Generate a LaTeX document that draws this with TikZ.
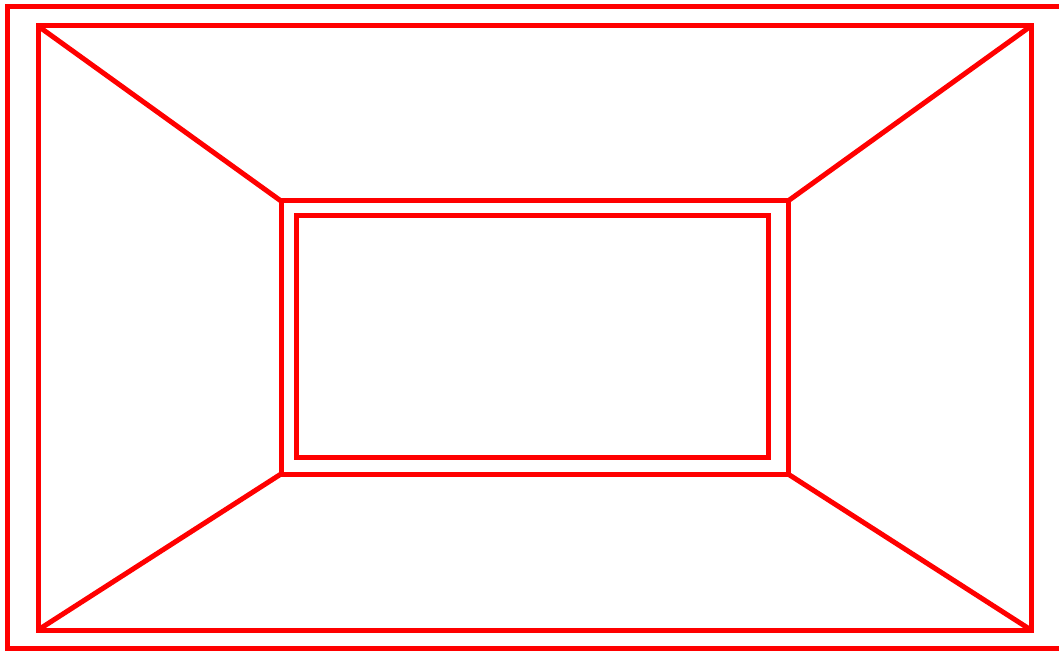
\documentclass[tikz,border=0pt]{standalone}
\begin{document}
\begin{tikzpicture}[x=1pt,y=-1pt,
  redline/.style={draw={rgb,255:red,255;green,0;blue,0},line width=5pt}]
\useasboundingbox (0,0) rectangle (1059,652);
\clip (0,0) rectangle (1059,652);
\coordinate (A1) at (38,26);
\coordinate (A2) at (1031,26);
\coordinate (A3) at (1031,630);
\coordinate (A4) at (38,630);
\coordinate (B1) at (281,201);
\coordinate (B2) at (788,201);
\coordinate (B3) at (788,474);
\coordinate (B4) at (281,474);
\draw[redline] (7,7) rectangle (1075,648);
\draw[redline] (A1) rectangle (A3);
\draw[redline] (B1) rectangle (B3);
\draw[redline] (296,216) rectangle (768,457);
\draw[redline] (A1) -- (B1);
\draw[redline] (A2) -- (B2);
\draw[redline] (A3) -- (B3);
\draw[redline] (A4) -- (B4);
\end{tikzpicture}
\end{document}
